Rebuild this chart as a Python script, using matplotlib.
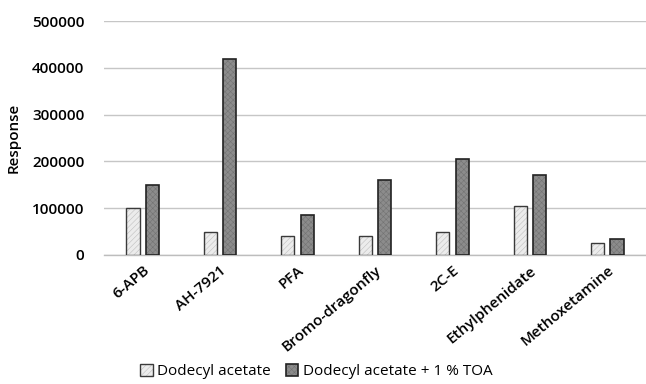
import matplotlib
matplotlib.use("Agg")
import matplotlib.pyplot as plt
import numpy as np

plt.rcParams['font.family'] = ['Open Sans', 'DejaVu Sans']
plt.rcParams['hatch.linewidth'] = 0.4

compounds = ['6-APB', 'AH-7921', 'PFA', 'Bromo-dragonfly', '2C-E', 'Ethylphenidate', 'Methoxetamine']
dodecyl = [100000, 50000, 40000, 40000, 50000, 105000, 25000]
dodecyl_toa = [150000, 420000, 85000, 160000, 205000, 170000, 35000]
yticks = [0, 100000, 200000, 300000, 400000, 500000]

fig = plt.figure(figsize=(6.46, 3.84), dpi=100)
ax = fig.add_axes([0.161, 0.336, 0.839, 0.609])

x = np.arange(len(compounds))
w = 0.17
b1 = ax.bar(x - 0.125, dodecyl, w, color='#ececec', edgecolor='#3a3a3a', linewidth=1.0,
            hatch='//////', label='Dodecyl acetate', zorder=3)
b2 = ax.bar(x + 0.125, dodecyl_toa, w, color='#8c8c8c', edgecolor='#222222', linewidth=1.2,
            hatch='xxxxxx', label='Dodecyl acetate + 1 % TOA', zorder=3)
for p in b1:
    p._hatch_color = (0.75, 0.75, 0.75, 1)
for p in b2:
    p._hatch_color = (0.45, 0.45, 0.45, 1)

ax.set_xlim(-0.5, len(compounds) - 0.5)
ax.set_ylim(0, 500000)
ax.set_yticks(yticks)
ax.set_yticklabels([str(v) for v in yticks], fontsize=11, fontweight='semibold')
ax.set_xticks(x)
ax.set_xticklabels(compounds, rotation=40, ha='right', rotation_mode='anchor',
                   fontsize=11, fontweight='semibold')
ax.tick_params(axis='both', length=0)
ax.tick_params(axis='y', pad=14)
ax.tick_params(axis='x', pad=6)
ax.yaxis.grid(True, color='#c6c6c6', linewidth=1.0, zorder=0)
for s in ['top', 'right', 'left']:
    ax.spines[s].set_visible(False)
ax.spines['bottom'].set_color('#bdbdbd')
ax.spines['bottom'].set_linewidth(1.0)
ax.set_ylabel('Response', fontsize=11, fontweight='semibold', labelpad=8)

fig.legend(handles=[b1, b2], loc='center', bbox_to_anchor=(0.49, 0.032), ncol=2,
           frameon=False, fontsize=11, handlelength=0.8, handleheight=0.8,
           handletextpad=0.3, columnspacing=1.0)

fig.savefig('out.png', dpi=100)
